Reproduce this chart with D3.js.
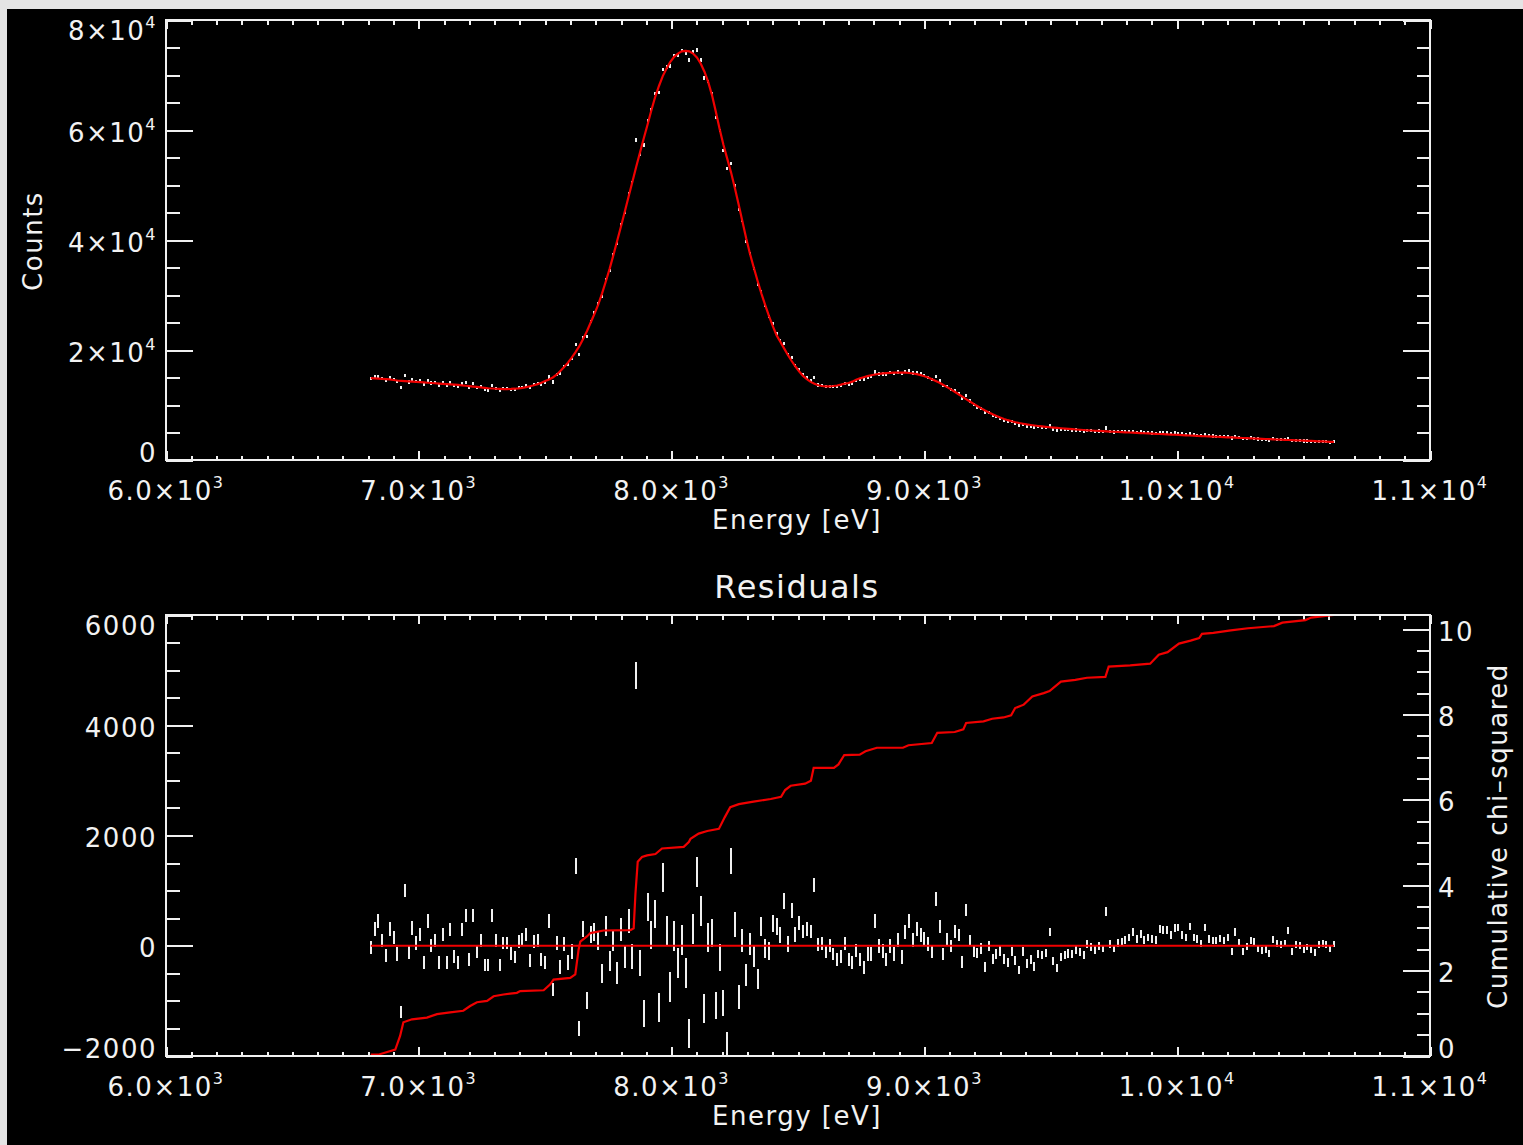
<!DOCTYPE html>
<html><head><meta charset="utf-8">
<script src="https://cdn.jsdelivr.net/npm/d3@7"></script>
<style>
html,body{margin:0;padding:0;background:#e4e4e4;}
svg{display:block;}
text{font-family:"DejaVu Sans",sans-serif;fill:#f2f2f2;letter-spacing:1.5px;}
</style></head><body>
<svg id="c" width="1523" height="1145"></svg>
<script>
// ---------------- data ----------------
const channelStart = 6810;   // eV, first channel
const channelWidth = 15;     // eV per channel

// fitted model counts per channel
const modelCounts = [
14900,14850,14800,14750,14700,14650,14550,14450,14400,14350,
14300,14250,14200,14150,14100,14050,14000,13950,13900,13850,
13800,13750,13700,13650,13580,13500,13430,13350,13280,13200,
13120,13050,13000,12950,12920,12900,12900,12920,12960,13030,
13120,13250,13400,13580,13800,14050,14350,14650,15000,15500,
16200,16900,17700,18600,19600,20700,22000,23400,25000,26600,
28300,30300,32500,34800,37300,39900,42500,45200,47900,50600,
53300,55900,58500,61000,63600,66000,68000,69800,71200,72400,
73300,73900,74300,74400,74300,73900,73200,72100,70600,68700,
66300,63300,60200,57300,54800,52300,49500,46500,43400,40300,
37500,35000,32600,30300,28200,26200,24400,22700,21500,20300,
19100,18000,17000,16100,15300,14700,14200,13850,13600,13450,
13400,13400,13450,13550,13700,13900,14000,14250,14600,14850,
15050,15250,15400,15550,15650,15750,15800,15850,15880,15900,
15900,15880,15820,15730,15600,15430,15230,15000,14700,14380,
14030,13650,13250,12830,12400,11960,11520,11080,10640,10200,
9780,9380,9000,8640,8300,7990,7710,7460,7240,7040,
6870,6720,6590,6470,6370,6270,6180,6100,6020,5950,
5890,5830,5770,5710,5650,5600,5550,5500,5450,5400,
5360,5320,5280,5240,5200,5166,5132,5098,5064,5030,
4996,4962,4928,4894,4860,4826,4792,4758,4724,4690,
4656,4622,4588,4554,4520,4486,4452,4418,4384,4352,
4320,4288,4256,4224,4192,4160,4128,4096,4064,4032,
4000,3970,3940,3910,3880,3850,3820,3790,3760,3730,
3700,3670,3640,3610,3580,3550,3520,3490,3460,3430,
3400,3370,3340,3310,3280
];

// residuals (data - model) per channel
const residuals = [
-30,300,450,100,-180,300,150,-150,-1200,1000,
-120,320,50,200,-300,450,0,100,-300,200,
-300,300,-200,-300,300,550,-250,550,-100,100,
-350,-350,550,100,-350,50,50,-140,-200,80,
120,200,-270,80,100,-250,-300,450,-800,50,
-380,30,-300,-100,
1450,-1500,300,-990,200,250,100,-510,350,-280,
100,-500,300,-200,450,-200,4900,-310,-1230,705,
200,580,-1120,1240,270,-750,175,-315,100,-500,
-1590,300,1330,630,-1130,150,230,-1080,-220,-1040,
-1790,1540,380,-930,100,-535,
30,-200,-600,350,-50,-100,400,350,200,820,
30,640,200,420,260,300,260,1100,30,40,
-100,0,-150,-250,-200,40,-250,-300,-80,-250,
-400,-150,-150,450,0,-100,-250,0,-150,100,
-200,250,450,100,300,200,130,30,-100,850,
350,-150,120,0,260,200,-300,650,100,-100,
-130,-50,-380,0,-240,-150,-100,-240,-300,
-100,-270,-440,-100,-320,-250,-380,-150,-170,-130,
250,-270,-400,-200,-170,-140,-150,-80,-110,-160,
30,-30,-80,0,-50,620,30,-50,50,60,
100,150,250,120,220,110,150,120,100,300,
290,290,200,320,330,200,150,350,150,120,
40,330,120,100,100,130,100,150,-100,250,
60,-100,-20,100,70,-50,-80,-70,-140,120,
40,20,50,280,-100,20,0,-80,-20,-80,
-120,20,40,20,-60,30
];

// cumulative chi-squared curve
const chiEnergy = [6810,6839,6907,6926,6939,6973,7032,7072,7124,7176,
7203,7230,7270,7296,7335,7388,7401,7494,7520,7533,
7599,7619,7632,7639,7665,7679,7731,7837,7850,7857,
7866,7883,7903,7936,7962,8048,8068,8075,8107,8141,
8187,8210,8232,8266,8324,8392,8433,8449,8471,8528,
8551,8562,8642,8660,8683,8744,8767,8812,8915,8937,
9029,9051,9120,9154,9165,9234,9268,9313,9343,9359,
9393,9427,9472,9495,9540,9597,9643,9716,9729,9814,
9893,9927,9962,10007,10053,10087,10098,10143,10212,10280,
10383,10416,10507,10530,10620];
const chiValue = [0.03,0.03,0.15,0.47,0.79,0.86,0.90,0.98,1.02,1.06,
1.17,1.26,1.29,1.40,1.44,1.48,1.52,1.54,1.68,1.79,
1.83,1.91,2.49,2.68,2.80,2.88,2.94,2.95,2.99,3.80,
4.55,4.66,4.70,4.73,4.86,4.90,5.01,5.09,5.21,5.27,
5.32,5.59,5.83,5.90,5.96,6.02,6.07,6.23,6.33,6.38,
6.45,6.75,6.75,6.83,7.05,7.06,7.14,7.22,7.22,7.28,
7.33,7.57,7.59,7.65,7.80,7.84,7.90,7.93,7.98,8.15,
8.23,8.42,8.50,8.55,8.77,8.81,8.86,8.88,9.12,9.15,
9.19,9.40,9.46,9.66,9.73,9.79,9.89,9.91,9.97,10.02,
10.07,10.15,10.21,10.27,10.33];

// ticks
const xTickValues = [6000,7000,8000,9000,10000,11000];
const xTickLabels = [["6.0×10","3"],["7.0×10","3"],["8.0×10","3"],["9.0×10","3"],["1.0×10","4"],["1.1×10","4"]];
const countTickValues = [0,20000,40000,60000,80000];
const countTickLabels = [["0",""],["2×10","4"],["4×10","4"],["6×10","4"],["8×10","4"]];
const residTickValues = [-2000,0,2000,4000,6000];
const residTickLabels = ["\u22122000","0","2000","4000","6000"];
const chiTickValues = [0,2,4,6,8,10];
const chiTickLabels = ["0","2","4","6","8","10"];

// ---------------- layout ----------------
const L = 166, R = 1430;
const T1 = 20, B1 = 460, T2 = 615, B2 = 1056;
const WHITE = "#f0f0f0", RED = "#f00000";

const svg = d3.select("#c");
svg.append("rect").attr("x",7).attr("y",9).attr("width",1516).attr("height",1136).attr("fill","#000");

const x = d3.scaleLinear().domain([6000,11000]).range([L,R]);
const yC = d3.scaleLinear().domain([0,80000]).range([B1,T1]);
const yR = d3.scaleLinear().domain([-2000,6000]).range([B2,T2]);
const yChi = d3.scaleLinear().domain([0,10.33]).range([B2,T2]);

const channels = modelCounts.map((m,i)=>{
  const r = residuals[i];
  const c = m + r;
  return {E: channelStart + channelWidth*i, model: m, resid: r, counts: c, sigma: Math.sqrt(c)};
});

const defs = svg.append("defs");
defs.append("clipPath").attr("id","clip1").append("rect").attr("x",L).attr("y",T1).attr("width",R-L).attr("height",B1-T1);
defs.append("clipPath").attr("id","clip2").append("rect").attr("x",L).attr("y",T2).attr("width",R-L).attr("height",B2-T2);

function strip(g){ g.select(".domain").remove(); g.selectAll("text").remove();
  g.selectAll("line").attr("stroke",WHITE).attr("stroke-width",2).attr("shape-rendering","crispEdges"); }

const xMinor = d3.range(6000, 11001, 100);
function xAxes(top, bot){
  svg.append("g").attr("transform",`translate(0,${bot})`).call(d3.axisBottom(x).tickValues(xMinor).tickSize(-4.5).tickFormat("")).call(strip);
  svg.append("g").attr("transform",`translate(0,${bot})`).call(d3.axisBottom(x).tickValues(xTickValues).tickSize(-9).tickFormat("")).call(strip);
  svg.append("g").attr("transform",`translate(0,${top})`).call(d3.axisTop(x).tickValues(xMinor).tickSize(-4.5).tickFormat("")).call(strip);
  svg.append("g").attr("transform",`translate(0,${top})`).call(d3.axisTop(x).tickValues(xTickValues).tickSize(-9).tickFormat("")).call(strip);
  xTickValues.forEach((v,i)=>{
    const t = svg.append("text").attr("x",x(v)).attr("y",bot+40).attr("text-anchor","middle").style("font-size","26px");
    t.append("tspan").text(xTickLabels[i][0]);
    t.append("tspan").attr("dy",-12).style("font-size","16px").text(xTickLabels[i][1]);
  });
  svg.append("text").attr("x",797).attr("y",bot+69).attr("text-anchor","middle").style("font-size","26px").text("Energy [eV]");
}
function yAxis(scale, major, minor, xpos, side){
  const ax = side==="left" ? d3.axisLeft : d3.axisRight;
  svg.append("g").attr("transform",`translate(${xpos},0)`).call(ax(scale).tickValues(minor).tickSize(-13.5).tickFormat("")).call(strip);
  svg.append("g").attr("transform",`translate(${xpos},0)`).call(ax(scale).tickValues(major).tickSize(-27).tickFormat("")).call(strip);
}
function labelY(ty, top, bot){
  if (ty - top < 5) return top + 10 + 9.5;
  if (bot - ty < 5) return bot - 8 + 9.5;
  return ty + 2 + 9.5;
}

// ---------- top panel ----------
xAxes(T1, B1);
const cMinor = d3.range(0, 80001, 5000);
yAxis(yC, countTickValues, cMinor, L, "left");
yAxis(yC, countTickValues, cMinor, R, "right");
countTickValues.forEach((v,i)=>{
  const t = svg.append("text").attr("x",157).attr("y",labelY(yC(v),T1,B1)).attr("text-anchor","end").style("font-size","26px");
  t.append("tspan").text(countTickLabels[i][0]);
  if (countTickLabels[i][1]) t.append("tspan").attr("dy",-12).style("font-size","16px").text(countTickLabels[i][1]);
});
svg.append("text").attr("transform","translate(42,241) rotate(-90)").attr("text-anchor","middle").style("font-size","26px").text("Counts");

const p1 = svg.append("g").attr("clip-path","url(#clip1)");
p1.selectAll("line.pt").data(channels).join("line").attr("class","pt")
  .attr("x1",d=>Math.round(x(d.E))).attr("x2",d=>Math.round(x(d.E)))
  .attr("y1",d=>Math.min(yC(d.counts+d.sigma), yC(d.counts)-1.6))
  .attr("y2",d=>Math.max(yC(d.counts-d.sigma), yC(d.counts)+1.6))
  .attr("stroke",WHITE).attr("stroke-width",2).attr("shape-rendering","crispEdges");
p1.append("path").datum(channels)
  .attr("d", d3.line().x(d=>x(d.E)).y(d=>yC(d.model)))
  .attr("fill","none").attr("stroke",RED).attr("stroke-width",2.2);

svg.append("rect").attr("x",L).attr("y",T1).attr("width",R-L).attr("height",B1-T1)
  .attr("fill","none").attr("stroke",WHITE).attr("stroke-width",2).attr("shape-rendering","crispEdges");

// ---------- bottom panel ----------
xAxes(T2, B2);
yAxis(yR, residTickValues, d3.range(-2000, 6001, 500), L, "left");
yAxis(yChi, chiTickValues, d3.range(0, 10.3, 0.5), R, "right");
residTickValues.forEach((v,i)=>{
  svg.append("text").attr("x",157).attr("y",labelY(yR(v),T2,B2)).attr("text-anchor","end").style("font-size","26px").text(residTickLabels[i]);
});
chiTickValues.forEach((v,i)=>{
  svg.append("text").attr("x",1438).attr("y",labelY(yChi(v),T2,B2)).attr("text-anchor","start").style("font-size","26px").text(chiTickLabels[i]);
});
svg.append("text").attr("x",797).attr("y",598).attr("text-anchor","middle").style("font-size","32px").text("Residuals");
svg.append("text").attr("transform","translate(1507,836) rotate(-90)").attr("text-anchor","middle").style("font-size","26px").text("Cumulative chi\u2013squared");

const p2 = svg.append("g").attr("clip-path","url(#clip2)");
p2.selectAll("line.rb").data(channels).join("line").attr("class","rb")
  .attr("x1",d=>Math.round(x(d.E))).attr("x2",d=>Math.round(x(d.E)))
  .attr("y1",d=>yR(d.resid+d.sigma)).attr("y2",d=>yR(d.resid-d.sigma))
  .attr("stroke",WHITE).attr("stroke-width",2).attr("shape-rendering","crispEdges");
p2.append("path").datum(channels)
  .attr("d", d3.line().x(d=>x(d.E)).y(d=>yR(d.model-d.model)))
  .attr("fill","none").attr("stroke",RED).attr("stroke-width",2.2);
p2.append("path").datum(chiEnergy.map((e,i)=>({E:e, v:chiValue[i]})))
  .attr("d", d3.line().x(d=>x(d.E)).y(d=>yChi(d.v)))
  .attr("fill","none").attr("stroke",RED).attr("stroke-width",2.2);

svg.append("rect").attr("x",L).attr("y",T2).attr("width",R-L).attr("height",B2-T2)
  .attr("fill","none").attr("stroke",WHITE).attr("stroke-width",2).attr("shape-rendering","crispEdges");
</script>
</body></html>
